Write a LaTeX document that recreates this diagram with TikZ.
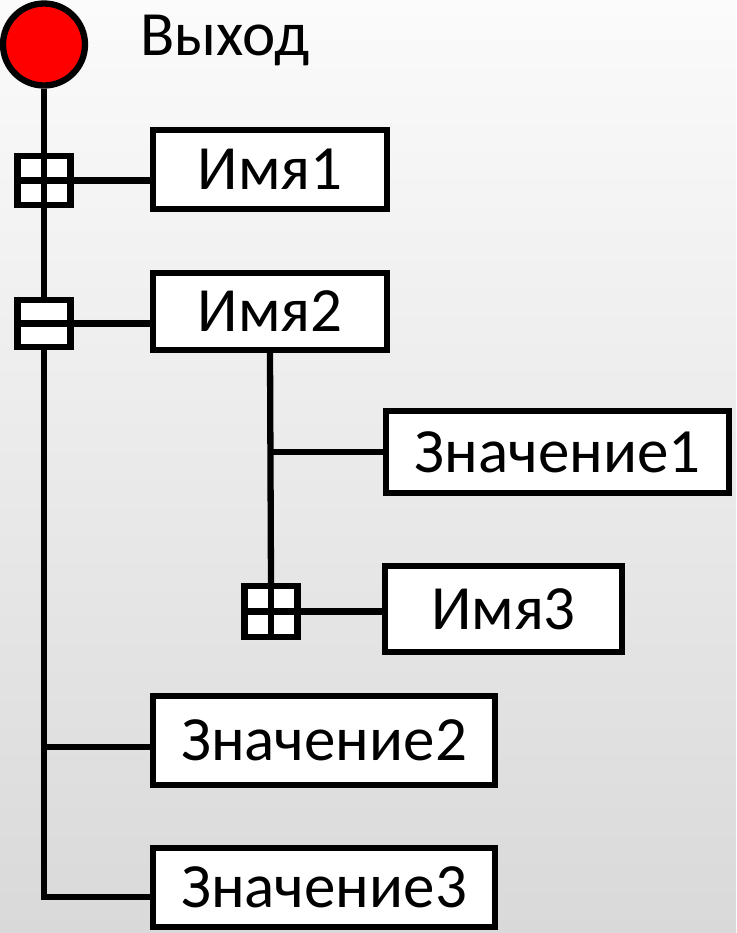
\documentclass[tikz,border=0pt]{standalone}
\usepackage{fontspec}
\setmainfont{Carlito}
\usetikzlibrary{calc}
\definecolor{bgtop}{HTML}{FBFBFB}
\definecolor{bgmid}{HTML}{EDEDED}
\definecolor{bgbot}{HTML}{D9D9D9}
\tikzset{
  wire/.style={line width=6.3pt, line cap=butt},
  itembox/.style={draw, line width=6.3pt, fill=white, inner sep=0pt,
    font=\fontsize{63}{70}\selectfont},
  toggle/.style={draw, line width=6.3pt, fill=white, inner sep=0pt,
    minimum width=53pt, minimum height=49pt},
}
\begin{document}
\begin{tikzpicture}[x=1pt, y=-1pt]
  % page and soft background
  \useasboundingbox (0,0) rectangle (736,933);
  \shade[top color=bgtop, middle color=bgmid, bottom color=bgbot] (0,0) rectangle (736,933);

  % root
  \node[circle, draw, line width=6.3pt, fill=red, minimum size=82pt, inner sep=0pt] (root) at (44,44.5) {};
  \node[anchor=base west, font=\fontsize{63}{70}\selectfont, inner sep=0pt] (title) at (140,56) {Выход};

  % toggles on the main trunk
  \node[toggle] (p1) at (44,180.5) {};
  \node[toggle, minimum height=47pt] (m1) at (44,323.5) {};
  \node[toggle, minimum height=51pt] (p3) at (271,611.5) {};

  % items
  \node[itembox, minimum width=234pt, minimum height=79pt] (n1) at (270,169.5) {Имя1};
  \node[itembox, minimum width=234pt, minimum height=77pt] (n2) at (270,311.5) {Имя2};
  \node[itembox, minimum width=343pt, minimum height=82pt] (v1) at (557.5,452) {Значение1};
  \node[itembox, minimum width=237pt, minimum height=86pt] (n3) at (503.5,609) {Имя3};
  \node[itembox, minimum width=342pt, minimum height=89pt] (v2) at (324,740.5) {Значение2};
  \node[itembox, minimum width=342pt, minimum height=79pt] (v3) at (324,887.5) {Значение3};

  % junctions on the trunks
  \coordinate (j1) at (271,452);
  \coordinate (j2) at (44,747);
  \coordinate (j3) at (44,897);

  % plus / minus marks inside the toggles
  \draw[wire] (p1.north) -- (p1.south);
  \draw[wire] (p1.west) -- (p1.east);
  \draw[wire] (m1.west) -- (m1.east);
  \draw[wire] (p3.north) -- (p3.south);
  \draw[wire] (p3.west) -- (p3.east);

  % main trunk
  \draw[wire] (root.south) -- (p1.north);
  \draw[wire] (p1.south) -- (m1.north);
  \draw[wire] (m1.south) -- (j3);
  \draw[wire, line cap=rect] (j3) -- (j3 -| v3.west);
  \draw[wire] (j2) -- (j2 -| v2.west);
  \draw[wire] (p1.east) -- (p1.east -| n1.west);
  \draw[wire] (m1.east) -- (m1.east -| n2.west);

  % branch under Имя2
  \draw[wire] (n2.south) -- (p3.north);
  \draw[wire] (j1) -- (j1 -| v1.west);
  \draw[wire] (p3.east) -- (p3.east -| n3.west);
\end{tikzpicture}
\end{document}
